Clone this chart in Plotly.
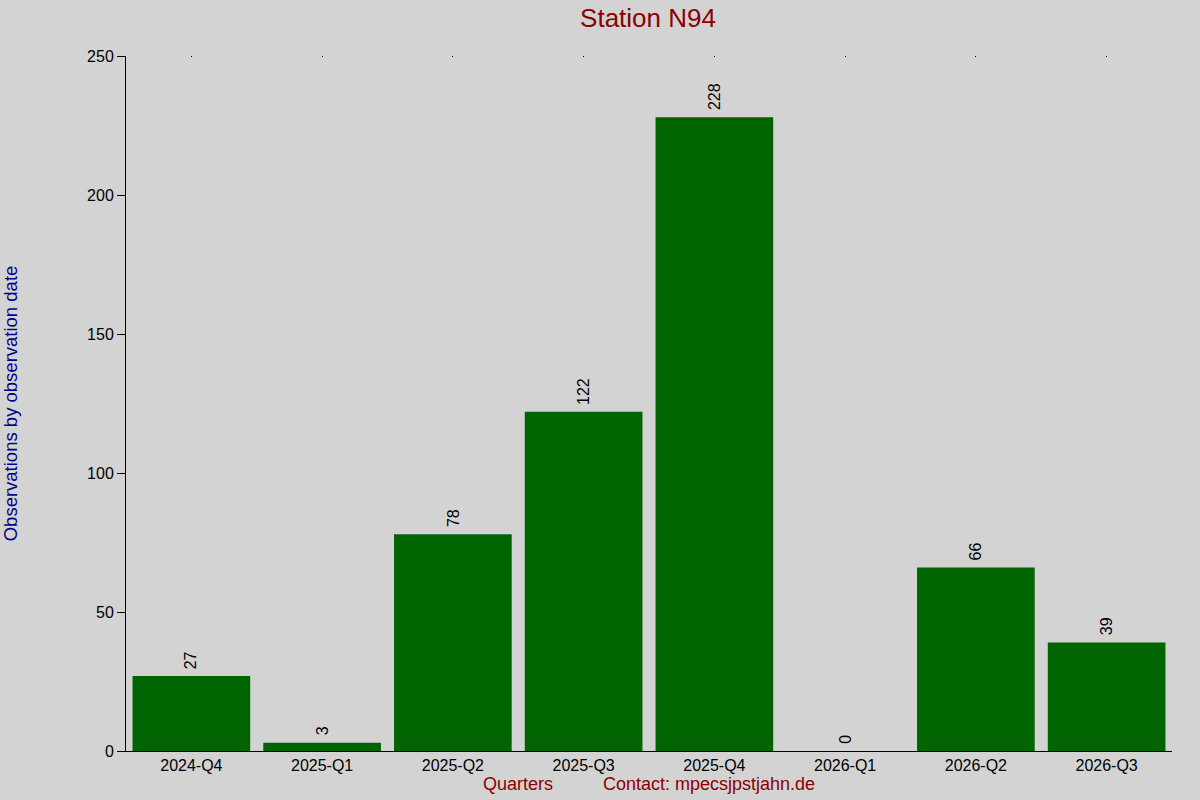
import plotly.graph_objects as go

# quarterly observation counts for the station
quarters = ["2024-Q4", "2025-Q1", "2025-Q2", "2025-Q3", "2025-Q4", "2026-Q1", "2026-Q2", "2026-Q3"]
counts   = [27, 3, 78, 122, 228, 0, 66, 39]
y_ticks  = [0, 50, 100, 150, 200, 250]

title_txt   = "Station N94"
x_title_txt = "Quarters          Contact: mpecsjpstjahn.de"
y_title_txt = "Observations by observation date"

bg     = "#D3D3D3"
font   = "Liberation Sans, Arial, sans-serif"

fig = go.Figure()

fig.add_trace(go.Bar(
    x             = quarters,
    y             = counts,
    marker        = dict(color = "#006400", line = dict(width = 0)),
    hoverinfo     = "x+y",
))

# value labels above the bars, rotated
for q, c in zip(quarters, counts):
    fig.add_annotation(
        x         = q,
        y         = c,
        text      = str(c),
        textangle = -90,
        showarrow = False,
        xanchor   = "center",
        yanchor   = "bottom",
        yshift    = 5,
        font      = dict(size = 16, color = "black", family = font),
    )

# invisible trace so the top axis gets its little tick dots
fig.add_trace(go.Scatter(
    x          = list(range(len(quarters))),
    y          = [None] * len(quarters),
    xaxis      = "x2",
    mode       = "markers",
    showlegend = False,
    hoverinfo  = "skip",
))

fig.update_layout(
    width         = 1200,
    height        = 800,
    paper_bgcolor = bg,
    plot_bgcolor  = bg,
    bargap        = 0.1,
    showlegend    = False,
    font          = dict(family = font, size = 16, color = "black"),
    margin        = dict(l = 126, r = 28, t = 56, b = 49),
    title         = dict(text = title_txt, x = 0.54, xanchor = "center", y = 0.978, yanchor = "middle",
                         font = dict(size = 26, color = "#8B0000", family = font)),
    xaxis         = dict(
        type       = "category",
        range      = [-0.5, len(quarters) - 0.5],
        automargin = False,
        showline   = True,
        linecolor  = "black",
        linewidth  = 1,
        ticks      = "",
        showgrid   = False,
        zeroline   = False,
        tickfont   = dict(size = 16, color = "black"),
        title      = dict(text = x_title_txt, standoff = 4, font = dict(size = 18, color = "#8B0000")),
    ),
    xaxis2        = dict(
        overlaying     = "x",
        side           = "top",
        range          = [-0.5, len(quarters) - 0.5],
        automargin     = False,
        tickvals       = list(range(len(quarters))),
        showticklabels = False,
        ticks          = "inside",
        ticklen        = 1,
        tickcolor      = "black",
        showline       = False,
        showgrid       = False,
        zeroline       = False,
    ),
    yaxis         = dict(
        range      = [0, 250],
        tickvals   = y_ticks,
        automargin = False,
        showline   = True,
        linecolor  = "black",
        linewidth  = 1,
        ticks      = "outside",
        ticklen    = 8,
        tickcolor  = "black",
        showgrid   = False,
        zeroline   = False,
        tickfont   = dict(size = 16, color = "black"),
        title      = dict(text = y_title_txt, standoff = 64, font = dict(size = 18.5, color = "#00008B")),
    ),
)

# drop the page's default body margin so the figure sits at the window corner
fig.write_html("out.html", config = {"displayModeBar": False},
               post_script = "document.body.style.margin = '0';")
